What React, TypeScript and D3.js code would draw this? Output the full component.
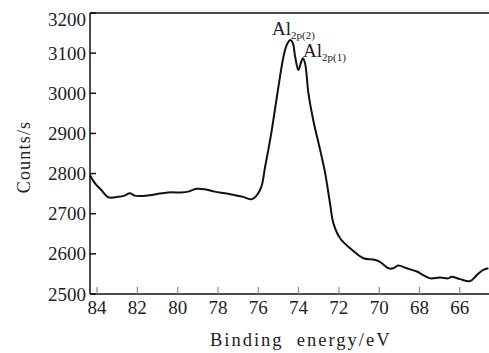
import React from "react";
import * as d3 from "d3";

const energy = [
  84.35, 84.11, 83.79, 83.45, 82.96, 82.63, 82.38, 82.13, 81.8, 81.14, 80.48, 79.82, 79.48, 79.07,
  78.66, 78.16, 77.66, 77.33, 76.75, 76.33, 76.08, 75.84, 75.66, 75.5, 75.33, 75.0, 74.75, 74.59,
  74.42, 74.29, 74.17, 74.01, 73.89, 73.79, 73.68, 73.51, 73.27, 72.93, 72.68, 72.44, 72.27, 71.94,
  71.44, 70.78, 70.29, 69.96, 69.54, 69.3, 69.05, 68.63, 68.13, 67.81, 67.47, 66.98, 66.57, 66.4,
  65.99, 65.49, 65.16, 64.83, 64.58,
];
const counts = [
  2796, 2776, 2759, 2741, 2742, 2745, 2751, 2745, 2744, 2748, 2753, 2753, 2755, 2762,
  2761, 2755, 2751, 2748, 2742, 2736, 2745, 2768, 2817, 2859, 2908, 3016, 3091, 3120,
  3133, 3126, 3091, 3058, 3075, 3087, 3075, 3000, 2933, 2859, 2801, 2726, 2676, 2639,
  2614, 2589, 2586, 2580, 2564, 2564, 2571, 2564, 2556, 2547, 2539, 2541, 2539, 2543,
  2537, 2532, 2547, 2560, 2564,
];
const xTicks = [84, 82, 80, 78, 76, 74, 72, 70, 68, 66];
const yTicks = [2500, 2600, 2700, 2800, 2900, 3000, 3100, 3200];
const xTitle = "Binding\u00a0\u00a0energy/eV";
const yTitle = "Counts/s";

const W = 489;
const H = 353;
const L = 90;
const R = 489;
const T = 13;
const B = 294;
const FONT = "'Liberation Serif', 'Times New Roman', serif";

export default function App() {
  const x = d3.scaleLinear().domain([84.35, 64.55]).range([L, R]);
  const y = d3.scaleLinear().domain([2500, 3200]).range([B, T]);
  const pts = energy.map((e, i) => [e, counts[i]] as [number, number]);
  const line = d3
    .line<[number, number]>()
    .x((d) => x(d[0]))
    .y((d) => y(d[1]))
    .curve(d3.curveCatmullRom.alpha(0.5));

  return (
    <svg
      width={W}
      height={H}
      style={{ position: "absolute", left: 0, top: 0, background: "#fff" }}
      fontFamily={FONT}
    >
      <rect x={0} y={0} width={W} height={H} fill="#fff" />
      <path d={line(pts) || ""} fill="none" stroke="#111" strokeWidth={2} strokeLinejoin="round" />
      <line x1={L} y1={T} x2={R} y2={T} stroke="#111" strokeWidth={1.5} />
      <line x1={L} y1={T} x2={L} y2={B} stroke="#111" strokeWidth={1.5} />
      <line x1={L} y1={B} x2={R} y2={B} stroke="#111" strokeWidth={1.5} />
      {yTicks.map((t, i) => (
        <g key={"y" + t}>
          <line x1={L} x2={L + 6} y1={y(t)} y2={y(t)} stroke="#111" strokeWidth={1.5} />
          <text
            x={86}
            y={i === yTicks.length - 1 ? y(t) + 13 : y(t) + 6.5}
            textAnchor="end"
            fontSize={19}
            fill="#222"
          >
            {t}
          </text>
        </g>
      ))}
      {xTicks.map((t) => (
        <g key={"x" + t}>
          <line x1={x(t)} x2={x(t)} y1={B} y2={B - 7} stroke="#888" strokeWidth={1.2} />
          <text x={x(t)} y={314} textAnchor="middle" fontSize={19} fill="#222">
            {t}
          </text>
        </g>
      ))}
      <text x={210} y={346} textAnchor="start" fontSize={18.5} fill="#222" letterSpacing={2}>
        {xTitle}
      </text>
      <text
        transform={`translate(30,157) rotate(-90)`}
        textAnchor="middle"
        fontSize={18}
        fill="#222"
        letterSpacing={1.2}
      >
        {yTitle}
      </text>
      <text x={272} y={35} fontSize={19} fill="#222">
        Al
        <tspan fontSize={11} dy={4}>2p(2)</tspan>
      </text>
      <text x={303} y={57} fontSize={19} fill="#222">
        Al
        <tspan fontSize={11} dy={4}>2p(1)</tspan>
      </text>
    </svg>
  );
}
